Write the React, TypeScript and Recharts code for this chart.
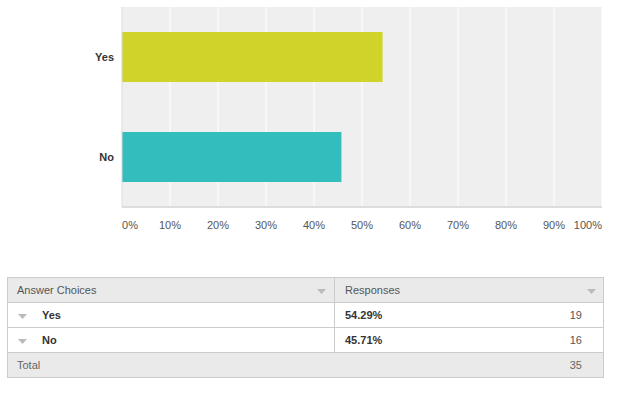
import { BarChart, Bar, XAxis, YAxis, CartesianGrid, Cell } from 'recharts';

const choices = ['Yes', 'No'];
const percents = [54.29, 45.71];
const counts = [19, 16];
const total = 35;
const ticks = [0, 10, 20, 30, 40, 50, 60, 70, 80, 90, 100];
const barColors = ['#d0d42a', '#33bdbd'];

const data = choices.map((name, i) => ({ name, value: percents[i] }));

const FONT = 'Arial, "Liberation Sans", sans-serif';

function XTick(props: any) {
  const { x, y, payload, index } = props;
  const last = ticks.length - 1;
  const anchor = index === 0 ? 'start' : index === last ? 'end' : 'middle';
  return (
    <text x={x} y={y} dy="0.71em" textAnchor={anchor} fontSize={11} fill="#555" fontFamily={FONT}>
      {payload.value}%
    </text>
  );
}

function YTick(props: any) {
  const { x, y, payload } = props;
  return (
    <text x={x} y={y} dy="0.35em" textAnchor="end" fontSize={11} fontWeight="bold" fill="#333" fontFamily={FONT}>
      {payload.value}
    </text>
  );
}

const caret = (
  <svg width="9" height="5" style={{ display: 'inline-block' }}>
    <polygon points="0,0 9,0 4.5,5" fill="#bbb" />
  </svg>
);

export default function App() {
  const cell: React.CSSProperties = { height: 24, padding: 0, verticalAlign: 'middle' };
  return (
    <div style={{ position: 'absolute', left: 0, top: 0, width: 617, height: 396, background: '#fff', fontFamily: FONT }}>
      <BarChart
        width={617}
        height={240}
        data={data}
        layout="vertical"
        margin={{ top: 7, right: 15, left: 0, bottom: 3 }}
        barSize={50}
      >
        <CartesianGrid fill="#efefef" stroke="#fff" horizontal={false} />
        <XAxis
          type="number"
          domain={[0, 100]}
          ticks={ticks}
          height={30}
          axisLine={{ stroke: '#ddd', strokeWidth: 2 }}
          tickLine={false}
          tickSize={6}
          tickMargin={8}
          tick={<XTick />}
        />
        <YAxis
          type="category"
          dataKey="name"
          width={122}
          axisLine={{ stroke: '#d8d8d8' }}
          tickLine={false}
          tickMargin={2}
          tick={<YTick />}
        />
        <Bar dataKey="value" isAnimationActive={false}>
          {data.map((d, i) => (
            <Cell key={d.name} fill={barColors[i]} />
          ))}
        </Bar>
      </BarChart>

      <table
        style={{
          position: 'absolute',
          left: 7,
          top: 277,
          width: 597,
          borderCollapse: 'collapse',
          fontSize: 11,
          color: '#333',
          border: '1px solid #ccc',
        }}
      >
        <tbody>
          <tr style={{ background: '#eaeaea', borderBottom: '1px solid #ccc' }}>
            <td style={{ ...cell, width: 317, paddingLeft: 9, color: '#555', borderRight: '1px solid #ccc' }}>
              <span>Answer Choices</span>
              <span style={{ float: 'right', marginRight: 8 }}>{caret}</span>
            </td>
            <td style={{ ...cell, paddingLeft: 10, color: '#555' }}>
              <span>Responses</span>
              <span style={{ float: 'right', marginRight: 7 }}>{caret}</span>
            </td>
          </tr>
          {choices.map((c, i) => (
            <tr key={c} style={{ background: '#fff', borderBottom: '1px solid #ccc' }}>
              <td style={{ ...cell, paddingLeft: 10, borderRight: '1px solid #ccc' }}>
                {caret}
                <span style={{ fontWeight: 'bold', marginLeft: 15 }}>{c}</span>
              </td>
              <td style={{ ...cell, paddingLeft: 10 }}>
                <span style={{ fontWeight: 'bold' }}>{percents[i].toFixed(2)}%</span>
                <span style={{ float: 'right', marginRight: 21, color: '#555' }}>{counts[i]}</span>
              </td>
            </tr>
          ))}
          <tr style={{ background: '#eaeaea' }}>
            <td style={{ ...cell, paddingLeft: 9, color: '#666' }}>Total</td>
            <td style={{ ...cell, paddingLeft: 10 }}>
              <span style={{ float: 'right', marginRight: 21, color: '#666' }}>{total}</span>
            </td>
          </tr>
        </tbody>
      </table>
    </div>
  );
}
